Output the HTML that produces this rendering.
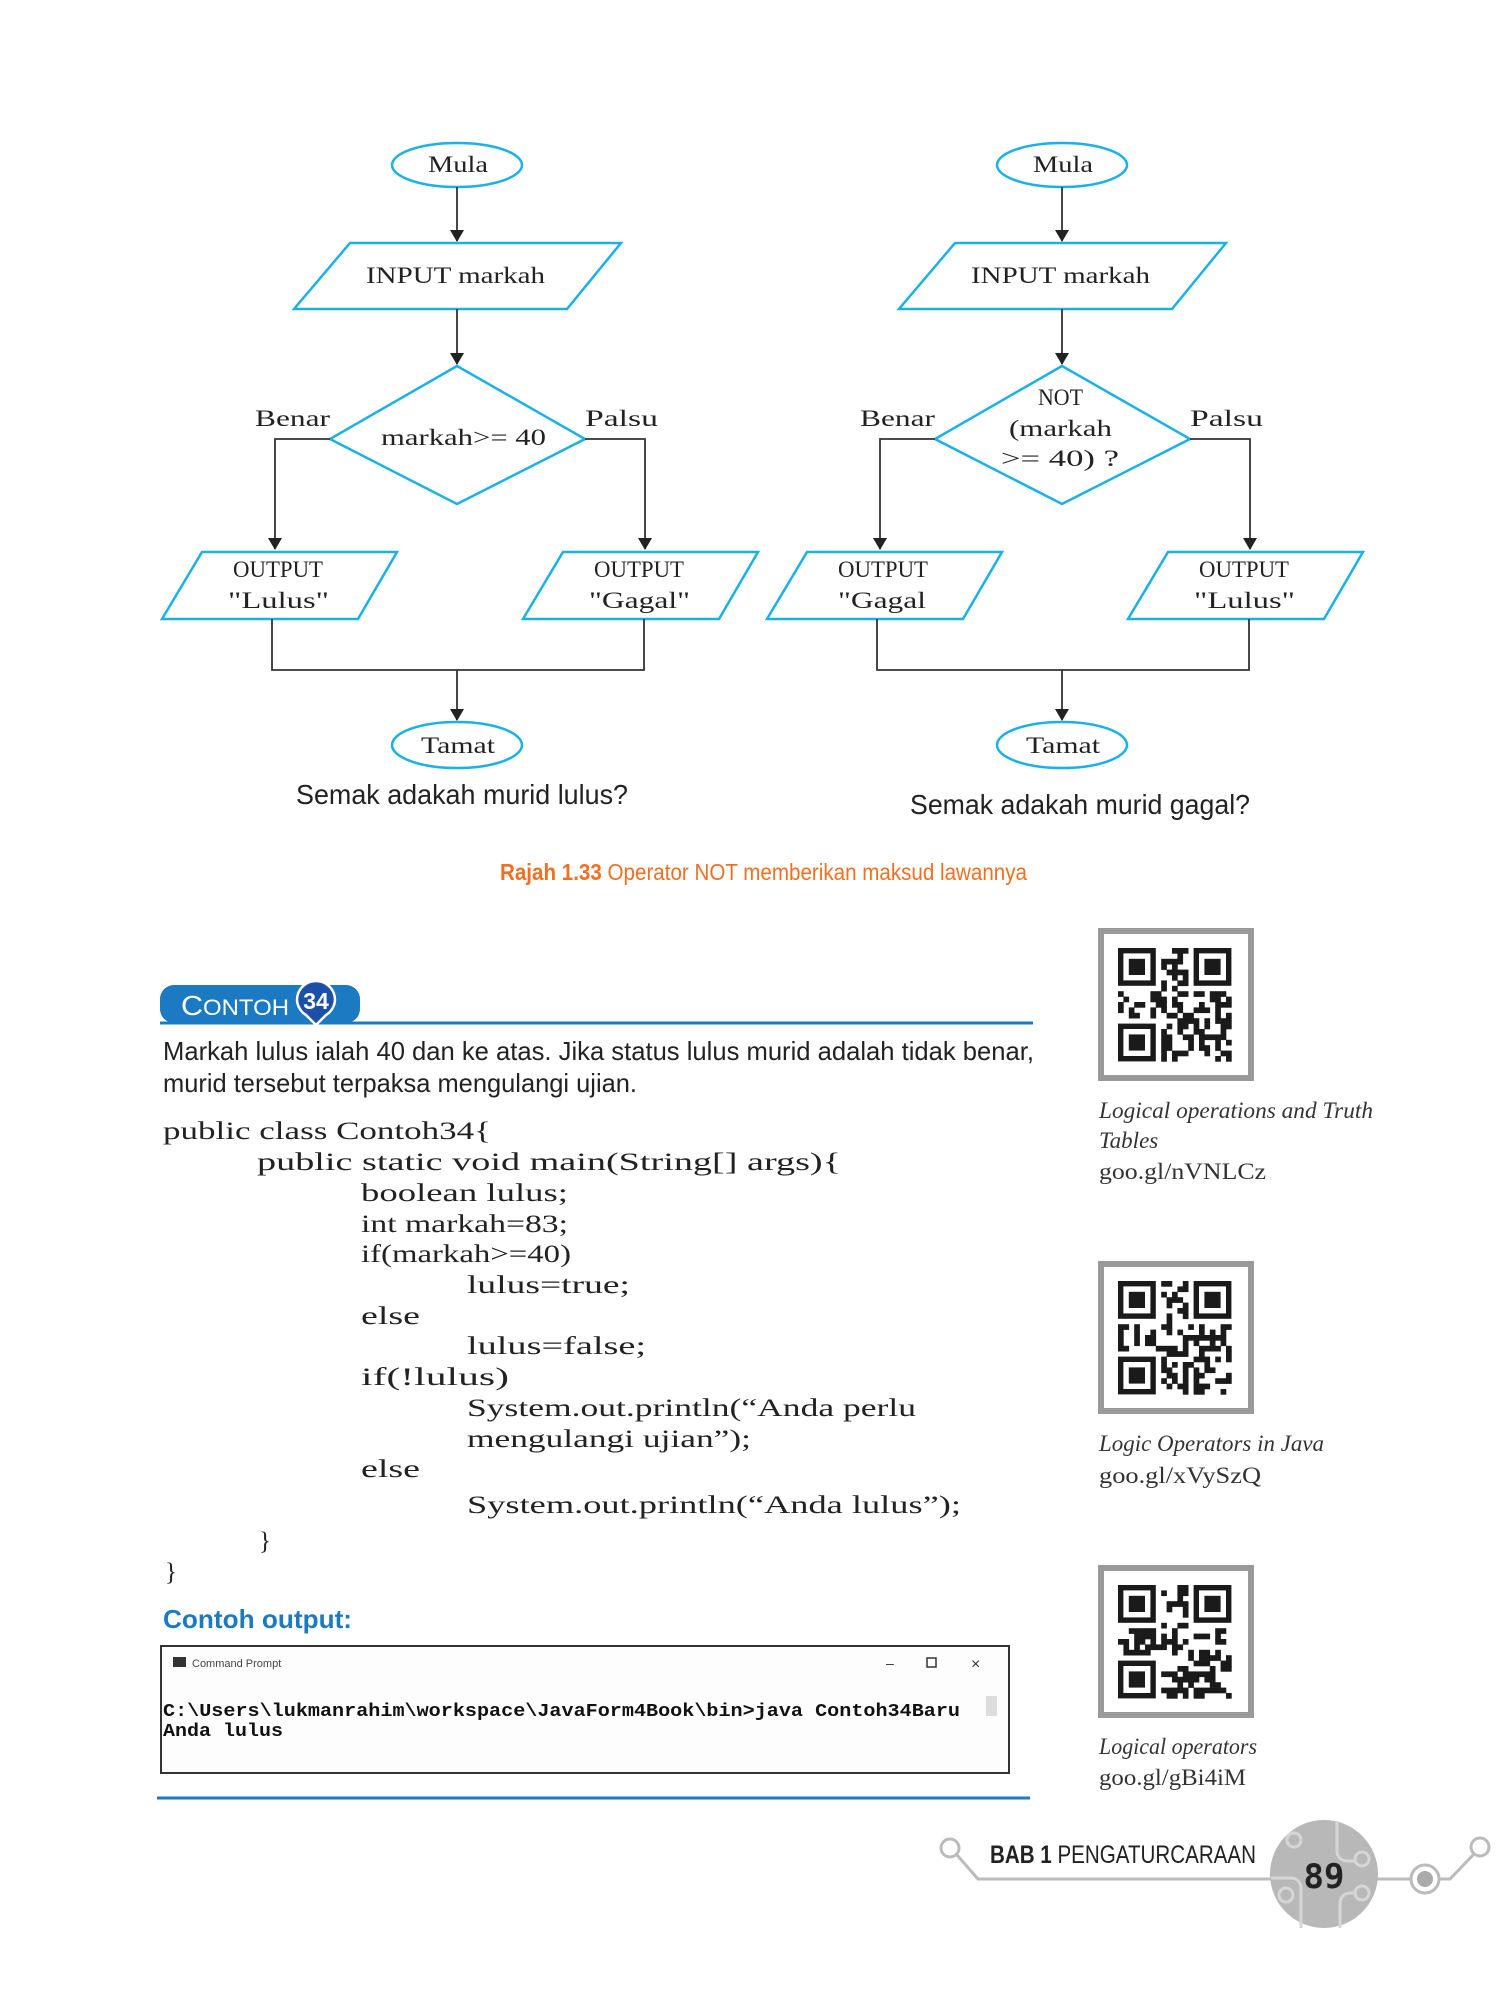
<!DOCTYPE html>
<html><head><meta charset="utf-8"><style>
html,body{margin:0;padding:0;background:#fff;}
svg{display:block;}
.fc{font-family:"Liberation Serif",serif;font-size:23px;fill:#222;}
.code{font-family:"Liberation Serif",serif;font-size:25px;fill:#222;}
.sans{font-family:"Liberation Sans Narrow","Liberation Sans",sans-serif;}
.it{font-family:"Liberation Serif",serif;font-style:italic;font-size:23px;fill:#333;}
</style></head><body>
<svg id="s" width="1505" height="2001" viewBox="0 0 1505 2001" xmlns="http://www.w3.org/2000/svg">
<defs>
<marker id="ar" markerWidth="12" markerHeight="14" refX="11" refY="7" orient="auto" markerUnits="userSpaceOnUse">
<path d="M0,0 L12,7 L0,14 Z" fill="#222"/></marker>
<g id="chart">
 <g fill="none" stroke="#1ab0e8" stroke-width="2.5">
  <ellipse cx="457" cy="165" rx="65" ry="22"/>
  <polygon points="350,243 621,243 567,309 294,309"/>
  <polygon points="457,366 585,439 457,504 330,439"/>
  <polygon points="202,552 397,552 358,619 162,619"/>
  <polygon points="563,552 758,552 719,619 523,619"/>
  <ellipse cx="457" cy="745" rx="65" ry="23"/>
 </g>
 <g fill="none" stroke="#333" stroke-width="1.8">
  <line x1="457" y1="187" x2="457" y2="241" marker-end="url(#ar)"/>
  <line x1="457" y1="309" x2="457" y2="364" marker-end="url(#ar)"/>
  <polyline points="330,439 275,439 275,549" marker-end="url(#ar)"/>
  <polyline points="585,439 645,439 645,549" marker-end="url(#ar)"/>
  <polyline points="272,619 272,670 644,670 644,619"/>
  <line x1="457" y1="670" x2="457" y2="720" marker-end="url(#ar)"/>
 </g>
</g>
</defs>

<use href="#chart"/>
<use href="#chart" x="605"/>

<g class="fc">
<text x="428" y="172" textLength="60" lengthAdjust="spacingAndGlyphs">Mula</text>
<text x="366" y="283" textLength="179" lengthAdjust="spacingAndGlyphs">INPUT markah</text>
<text x="381" y="445" textLength="165" lengthAdjust="spacingAndGlyphs">markah&gt;= 40</text>
<text x="255" y="426" textLength="75" lengthAdjust="spacingAndGlyphs">Benar</text>
<text x="585" y="426" textLength="73" lengthAdjust="spacingAndGlyphs">Palsu</text>
<text x="233" y="577" textLength="90" lengthAdjust="spacingAndGlyphs">OUTPUT</text>
<text x="228" y="608" textLength="101" lengthAdjust="spacingAndGlyphs">"Lulus"</text>
<text x="594" y="577" textLength="90" lengthAdjust="spacingAndGlyphs">OUTPUT</text>
<text x="589" y="608" textLength="101" lengthAdjust="spacingAndGlyphs">"Gagal"</text>
<text x="421" y="753" textLength="74" lengthAdjust="spacingAndGlyphs">Tamat</text>
</g>
<g class="fc">
<text x="1033" y="172" textLength="60" lengthAdjust="spacingAndGlyphs">Mula</text>
<text x="971" y="283" textLength="179" lengthAdjust="spacingAndGlyphs">INPUT markah</text>
<text x="1038" y="405" textLength="45" lengthAdjust="spacingAndGlyphs">NOT</text>
<text x="1009" y="436" textLength="103" lengthAdjust="spacingAndGlyphs">(markah</text>
<text x="1001" y="466" textLength="118" lengthAdjust="spacingAndGlyphs">&gt;= 40) ?</text>
<text x="860" y="426" textLength="75" lengthAdjust="spacingAndGlyphs">Benar</text>
<text x="1190" y="426" textLength="73" lengthAdjust="spacingAndGlyphs">Palsu</text>
<text x="838" y="577" textLength="90" lengthAdjust="spacingAndGlyphs">OUTPUT</text>
<text x="838" y="608" textLength="88" lengthAdjust="spacingAndGlyphs">"Gagal</text>
<text x="1199" y="577" textLength="90" lengthAdjust="spacingAndGlyphs">OUTPUT</text>
<text x="1194" y="608" textLength="101" lengthAdjust="spacingAndGlyphs">"Lulus"</text>
<text x="1026" y="753" textLength="74" lengthAdjust="spacingAndGlyphs">Tamat</text>
</g>

<g class="sans" fill="#222" font-size="28">
<text x="296" y="804" textLength="332" lengthAdjust="spacingAndGlyphs">Semak adakah murid lulus?</text>
<text x="910" y="814" textLength="340" lengthAdjust="spacingAndGlyphs">Semak adakah murid gagal?</text>
</g>
<text class="sans" x="500" y="880" font-size="23" fill="#f26f21" textLength="527" lengthAdjust="spacingAndGlyphs"><tspan font-weight="bold">Rajah 1.33</tspan> Operator NOT memberikan maksud lawannya</text>

<g transform="translate(0,-4)">
<rect x="160" y="989" width="200" height="38" rx="14" fill="#1b7ac2"/>
<line x1="160" y1="1027" x2="1033" y2="1027" stroke="#1b7ac2" stroke-width="3"/>
<text class="sans" x="181" y="1019" font-size="28" fill="#fff" textLength="108" lengthAdjust="spacingAndGlyphs">C<tspan font-size="22">ONTOH</tspan></text>
<path d="M297,1004 a19,19 0 1 1 38,0 a19,19 0 0 1 -9,15 l-10,10 l-10,-10 a19,19 0 0 1 -9,-15z" fill="#1b4fa8" stroke="#fff" stroke-width="2.5"/>
<text class="sans" x="316" y="1013" font-size="23" font-weight="bold" fill="#fff" text-anchor="middle">34</text>

<g class="sans" fill="#222" font-size="26">
<text x="163" y="1064" textLength="871" lengthAdjust="spacingAndGlyphs">Markah lulus ialah 40 dan ke atas. Jika status lulus murid adalah tidak benar,</text>
<text x="163" y="1096" textLength="474" lengthAdjust="spacingAndGlyphs">murid tersebut terpaksa mengulangi ujian.</text>
</g>

<g class="code">
<text x="163" y="1143" textLength="328" lengthAdjust="spacingAndGlyphs">public class Contoh34{</text>
<text x="257" y="1174" textLength="584" lengthAdjust="spacingAndGlyphs">public static void main(String[] args){</text>
<text x="361" y="1205" textLength="207" lengthAdjust="spacingAndGlyphs">boolean lulus;</text>
<text x="361" y="1236" textLength="207" lengthAdjust="spacingAndGlyphs">int markah=83;</text>
<text x="361" y="1266" textLength="210" lengthAdjust="spacingAndGlyphs">if(markah&gt;=40)</text>
<text x="467" y="1297" textLength="163" lengthAdjust="spacingAndGlyphs">lulus=true;</text>
<text x="361" y="1328" textLength="59" lengthAdjust="spacingAndGlyphs">else</text>
<text x="467" y="1358" textLength="179" lengthAdjust="spacingAndGlyphs">lulus=false;</text>
<text x="361" y="1389" textLength="148" lengthAdjust="spacingAndGlyphs">if(!lulus)</text>
<text x="467" y="1420" textLength="449" lengthAdjust="spacingAndGlyphs">System.out.println(“Anda perlu</text>
<text x="467" y="1451" textLength="284" lengthAdjust="spacingAndGlyphs">mengulangi ujian”);</text>
<text x="361" y="1481" textLength="59" lengthAdjust="spacingAndGlyphs">else</text>
<text x="467" y="1517" textLength="494" lengthAdjust="spacingAndGlyphs">System.out.println(“Anda lulus”);</text>
<text x="259" y="1553">}</text>
<text x="165" y="1584">}</text>
</g>

<text class="sans" x="163" y="1632" font-size="26" font-weight="bold" fill="#1b7ac2" textLength="189" lengthAdjust="spacingAndGlyphs">Contoh output:</text>

<rect x="161" y="1650" width="848" height="127" fill="#fdfdfd" stroke="#333" stroke-width="2"/>
<rect x="173" y="1661" width="13" height="10" fill="#333"/>
<text x="192" y="1671" font-family="Liberation Sans,sans-serif" font-size="11" fill="#444">Command Prompt</text>
<text x="886" y="1672" font-family="Liberation Sans,sans-serif" font-size="14" fill="#333">–</text>
<rect x="927" y="1662" width="9" height="9" fill="none" stroke="#333" stroke-width="1.5"/>
<text x="971" y="1673" font-family="Liberation Sans,sans-serif" font-size="16" fill="#333">×</text>
<rect x="986" y="1700" width="11" height="20" fill="#ddd"/>
<g font-family="Liberation Mono,monospace" font-size="18" font-weight="bold" fill="#111">
<text x="163" y="1720" textLength="797" lengthAdjust="spacingAndGlyphs">C:\Users\lukmanrahim\workspace\JavaForm4Book\bin&gt;java Contoh34Baru</text>
<text x="163" y="1740" textLength="120" lengthAdjust="spacingAndGlyphs">Anda lulus</text>
</g>
<line x1="157" y1="1802" x2="1030" y2="1802" stroke="#1b7ac2" stroke-width="3"/>

<g class="it">
<text x="1099" y="1122" textLength="274" lengthAdjust="spacingAndGlyphs">Logical operations and Truth</text>
<text x="1099" y="1152">Tables</text>
<text x="1099" y="1183" font-style="normal" textLength="167" lengthAdjust="spacingAndGlyphs">goo.gl/nVNLCz</text>
<text x="1099" y="1455" textLength="225" lengthAdjust="spacingAndGlyphs">Logic Operators in Java</text>
<text x="1099" y="1487" font-style="normal" textLength="162" lengthAdjust="spacingAndGlyphs">goo.gl/xVySzQ</text>
<text x="1099" y="1758" textLength="158" lengthAdjust="spacingAndGlyphs">Logical operators</text>
<text x="1099" y="1789" font-style="normal" textLength="147" lengthAdjust="spacingAndGlyphs">goo.gl/gBi4iM</text>
</g>
</g>

<g id="qrs"></g>

<g transform="translate(0,-7)">
<g stroke="#bbb" stroke-width="3" fill="none">
<circle cx="950" cy="1855" r="9"/>
<polyline points="957,1862 978,1886 1280,1886"/>
<line x1="1370" y1="1886" x2="1412" y2="1886"/>
<circle cx="1425" cy="1886" r="14"/>
<polyline points="1439,1886 1450,1886 1475,1860"/>
<circle cx="1480" cy="1854" r="9"/>
</g>
<circle cx="1425" cy="1886" r="8" fill="#aaa"/>
<text class="sans" x="990" y="1870" font-size="25" fill="#222" textLength="266" lengthAdjust="spacingAndGlyphs"><tspan font-weight="bold">BAB 1</tspan> PENGATURCARAAN</text>
<circle cx="1324" cy="1881" r="54" fill="#b8b8b8"/>
<g stroke="#d6d6d6" stroke-width="3" fill="none">
<path d="M1337,1828 v30 a10,10 0 0 0 10,10 h8"/><circle cx="1362" cy="1866" r="7"/>
<circle cx="1294" cy="1847" r="7"/><path d="M1271,1885 h20 a10,10 0 0 1 10,10 v40"/>
<circle cx="1286" cy="1902" r="7"/><path d="M1340,1935 v-25 a10,10 0 0 1 10,-10 h6"/><circle cx="1362" cy="1900" r="7"/>
</g>
<text x="1324" y="1895" font-family="DejaVu Sans Mono,monospace" font-size="34" font-weight="bold" fill="#222" text-anchor="middle">89</text>
</g>
</svg>
<script>
(function(){
var g=document.getElementById('qrs'),ns='http://www.w3.org/2000/svg';
function r(x,y,w,h,f,s,sw){var e=document.createElementNS(ns,'rect');e.setAttribute('x',x);e.setAttribute('y',y);e.setAttribute('width',w);e.setAttribute('height',h);e.setAttribute('fill',f);if(s){e.setAttribute('stroke',s);e.setAttribute('stroke-width',sw);}g.appendChild(e);}
var tops=[928,1261,1565],seed=7;
function rnd(){seed=(seed*16807)%2147483647;return seed/2147483647;}
tops.forEach(function(t){
 r(1101,t+3,150,147,'#fff','#999',6);
 var ox=1118,oy=t+20,m=5.4;
 for(var i=0;i<21;i++)for(var j=0;j<21;j++){
  var inF=(i<8&&j<8)||(i>12&&j<8)||(i<8&&j>12);
  if(inF)continue;
  if(rnd()<0.5)r(ox+i*m,oy+j*m,m+0.3,m+0.3,'#1a1a1a');
 }
 [[0,0],[14,0],[0,14]].forEach(function(p){
  var x=ox+p[0]*m,y=oy+p[1]*m;
  r(x,y,7*m,7*m,'#1a1a1a');r(x+m,y+m,5*m,5*m,'#fff');r(x+2*m,y+2*m,3*m,3*m,'#1a1a1a');
 });
});
})();
</script>
</body></html>
